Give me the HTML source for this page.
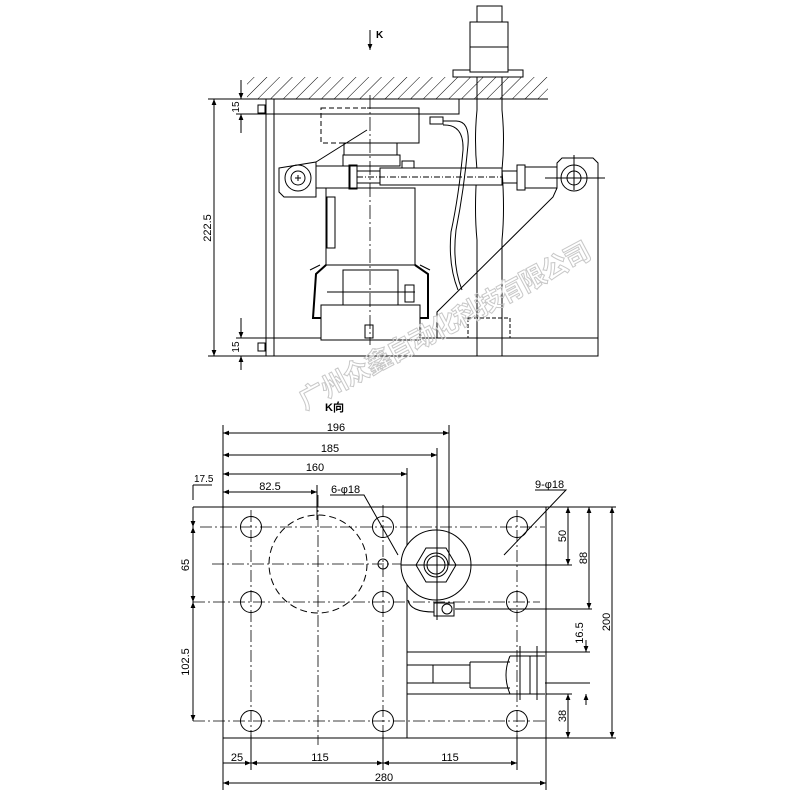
<!DOCTYPE html>
<html><head><meta charset="utf-8"><style>html,body{margin:0;padding:0;background:#fff}svg{display:block}</style></head><body>
<svg width="800" height="800" viewBox="0 0 800 800" xmlns="http://www.w3.org/2000/svg" font-family="Liberation Sans, DejaVu Sans, sans-serif">
<defs>
<pattern id="h" width="9" height="9" patternUnits="userSpaceOnUse" patternTransform="rotate(45)"><line x1="0" y1="0" x2="0" y2="9" stroke="#000" stroke-width="1"/></pattern>
<marker id="a" viewBox="0 0 10 10" refX="10" refY="5" markerWidth="8" markerHeight="6" orient="auto-start-reverse"><path d="M0,1 L10,5 L0,9 z" fill="#000"/></marker>
</defs>
<g fill="none" stroke="#000" stroke-width="1">
<!-- TOP VIEW -->
<rect x="247" y="77" width="301" height="22" fill="url(#h)" stroke="none"/>
<line x1="247" y1="99" x2="548" y2="99"/>
<rect x="453" y="70" width="70" height="7" fill="#fff"/>
<rect x="477" y="6" width="25" height="16" fill="#fff"/>
<rect x="470" y="22" width="38" height="50" fill="#fff"/>
<line x1="470" y1="47" x2="508" y2="47"/>
<path d="M477,77 L477,110 Q474,140 477,170 Q474,210 477,240 L477,356 M502,77 L502,110 Q505,140 502,170 Q505,210 502,240 L502,356"/>
<rect x="266" y="99" width="8" height="257"/>
<rect x="274" y="99" width="185" height="15"/>
<rect x="274" y="338" width="324" height="18"/>
<rect x="258" y="105" width="7" height="8"/><rect x="258" y="343" width="7" height="8"/>
<path d="M437,338 L437,312 L553,197 L557,188 L557,163 L562,158 L593,158 L598,163 L598,338"/>
<rect x="321" y="108" width="98" height="35" stroke-dasharray="5,3"/>
<path d="M367,108 L419,108 L419,143 L367,143"/>
<rect x="344" y="143" width="53" height="12"/>
<rect x="343" y="155" width="57" height="11"/>
<path d="M316,162 L367,130 M279,168 L316,162 L316,197 L284,197 L279,192 Z" fill="#fff"/>
<circle cx="298" cy="178" r="13"/><circle cx="298" cy="178" r="7"/>
<path d="M295,178h6M298,175v6"/>
<rect x="316" y="166" width="34" height="22" fill="#fff"/>
<rect x="349" y="165" width="8" height="24"/>
<rect x="357" y="171" width="23" height="12"/>
<rect x="380" y="168" width="122" height="17" fill="#fff"/>
<line x1="357" y1="177" x2="502" y2="177" stroke-dasharray="6,2,1,2"/>
<rect x="502" y="171" width="15" height="12"/>
<rect x="517" y="165" width="8" height="25"/>
<rect x="525" y="167" width="32" height="21"/>
<circle cx="574" cy="178" r="13"/><circle cx="574" cy="178" r="7"/>
<path d="M545,178h60M574,155v35"/>
<rect x="430" y="117" width="13" height="7"/><rect x="402" y="161" width="12" height="7"/>
<path d="M443,121 L455,121 Q470,120 468,145 Q464,190 456,230 Q452,265 462,290 M443,125 Q464,124 463,150 Q459,195 451,232 Q448,265 458,290"/>
<rect x="326" y="188" width="89" height="77"/>
<rect x="327" y="197" width="8" height="51"/>
<path d="M326,265 L316,274 L313,318 L428,318 L428,274 L415,265" stroke-width="2"/>
<path d="M320,265 L310,270 M420,265 L430,270"/>
<rect x="343" y="270" width="55" height="35"/>
<line x1="327" y1="292" x2="415" y2="292"/>
<rect x="405" y="285" width="9" height="17"/>
<rect x="321" y="305" width="99" height="35" fill="#fff"/>
<rect x="365" y="325" width="8" height="13"/>
<rect x="468" y="318" width="42" height="20" stroke-dasharray="4,2"/>
<rect x="477" y="338" width="25" height="18" stroke-dasharray="4,2"/>
<line x1="370" y1="95" x2="370" y2="345" stroke-dasharray="14,3,2,3" stroke-width="0.8"/>
<line x1="370" y1="30" x2="370" y2="50" marker-end="url(#a)"/>
<!-- top dims -->
<line x1="214" y1="99" x2="214" y2="356" marker-start="url(#a)" marker-end="url(#a)"/>
<path d="M208,99 H266 M208,356 H266 M236,114 H274 M236,338 H274"/>
<line x1="241" y1="80" x2="241" y2="99" marker-end="url(#a)"/><line x1="241" y1="133" x2="241" y2="114" marker-end="url(#a)"/>
<line x1="241" y1="318" x2="241" y2="338" marker-end="url(#a)"/><line x1="241" y1="370" x2="241" y2="356" marker-end="url(#a)"/>
<!-- K VIEW -->
<rect x="223" y="507" width="184" height="231"/>
<rect x="407" y="507" width="139" height="231"/>
<g stroke-dasharray="12,3,2,3" stroke-width="0.8">
<line x1="200" y1="527" x2="545" y2="527"/><line x1="193" y1="602" x2="540" y2="602"/><line x1="193" y1="721" x2="545" y2="721"/>
<line x1="212" y1="564" x2="470" y2="564"/>
<line x1="251" y1="510" x2="251" y2="770"/><line x1="383" y1="505" x2="383" y2="770"/><line x1="517" y1="510" x2="517" y2="735"/>
<line x1="318" y1="495" x2="318" y2="745"/>
</g>
<circle cx="251" cy="527" r="10.5"/><circle cx="383" cy="527" r="10.5"/><circle cx="517" cy="527" r="10.5"/>
<circle cx="251" cy="602" r="10.5"/><circle cx="383" cy="602" r="10.5"/><circle cx="517" cy="602" r="10.5"/>
<circle cx="251" cy="721" r="10.5"/><circle cx="383" cy="721" r="10.5"/><circle cx="517" cy="721" r="10.5"/>
<circle cx="318" cy="564" r="49" stroke-dasharray="7,4"/>
<circle cx="383" cy="564" r="5"/>
<circle cx="436" cy="565" r="35" fill="#fff"/>
<polygon points="416,565 426,548 446,548 456,565 446,582 426,582"/>
<circle cx="436" cy="565" r="12"/><circle cx="436" cy="565" r="9"/>
<line x1="401" y1="565" x2="471" y2="565"/>
<rect x="434" y="603" width="20" height="13"/><circle cx="447" cy="609" r="5"/>
<path d="M408,600 Q410,612 434,612"/>
<path d="M407,652 H545 M407,694 H545 M407,665 H470 M407,683 H470 M470,662 H510 M470,688 H510 M470,662 V688 M433,665 V683 M510,656 Q502,675 510,694 M510,656 H545 M510,694 H545"/>
<path d="M520,646 V700 M530,656 V694 M537,646 V700"/>
<!-- K dims -->
<g marker-start="url(#a)" marker-end="url(#a)">
<line x1="223" y1="433" x2="449" y2="433"/><line x1="223" y1="455" x2="437" y2="455"/><line x1="223" y1="474" x2="407" y2="474"/><line x1="223" y1="492" x2="317" y2="492"/>
<line x1="193" y1="527" x2="193" y2="602"/><line x1="193" y1="602" x2="193" y2="721"/>
<line x1="568" y1="507" x2="568" y2="565"/><line x1="589" y1="507" x2="589" y2="609"/><line x1="612" y1="507" x2="612" y2="738"/>
<line x1="568" y1="694" x2="568" y2="738"/>
<line x1="251" y1="763" x2="383" y2="763"/><line x1="383" y1="763" x2="517" y2="763"/><line x1="223" y1="783" x2="546" y2="783"/>
</g>
<line x1="193" y1="507" x2="193" y2="527" marker-end="url(#a)"/><line x1="193" y1="485" x2="193" y2="500"/>
<path d="M193,485 H212 M193,507 H223"/>
<line x1="586" y1="640" x2="586" y2="652" marker-end="url(#a)"/><line x1="586" y1="705" x2="586" y2="694" marker-end="url(#a)"/>
<line x1="223" y1="763" x2="251" y2="763" marker-end="url(#a)"/>
<path d="M223,425 V790 M449,425 V565 M437,448 V620 M407,468 V507 M317,485 V520 M546,510 V790 M251,735 V770 M383,735 V770 M517,735 V770"/>
<path d="M546,507 H616 M456,565 H572 M455,609 H592 M546,738 H616 M546,694 H572 M545,652 H590 M545,683 H590"/>
<path d="M330,495 H364 L398,555 M535,490 H566 L504,555"/>
</g>
<g fill="#000" font-size="11">
<text x="376" y="38" font-weight="bold" font-size="10">K</text>
<text x="325" y="411" font-weight="bold" font-size="11">K向</text>
<text x="336" y="431" text-anchor="middle">196</text>
<text x="330" y="452" text-anchor="middle">185</text>
<text x="315" y="471" text-anchor="middle">160</text>
<text x="270" y="490" text-anchor="middle">82.5</text>
<text x="194" y="482" font-size="10">17.5</text>
<text x="331" y="493">6-φ18</text>
<text x="535" y="488">9-φ18</text>
<text x="320" y="761" text-anchor="middle">115</text>
<text x="450" y="761" text-anchor="middle">115</text>
<text x="237" y="761" text-anchor="middle">25</text>
<text x="384" y="781" text-anchor="middle">280</text>
<text transform="translate(189,565) rotate(-90)" text-anchor="middle">65</text>
<text transform="translate(189,662) rotate(-90)" text-anchor="middle">102.5</text>
<text transform="translate(566,536) rotate(-90)" text-anchor="middle">50</text>
<text transform="translate(587,558) rotate(-90)" text-anchor="middle">88</text>
<text transform="translate(610,622) rotate(-90)" text-anchor="middle">200</text>
<text transform="translate(583,633) rotate(-90)" text-anchor="middle">16.5</text>
<text transform="translate(566,716) rotate(-90)" text-anchor="middle">38</text>
<text transform="translate(211,228) rotate(-90)" text-anchor="middle">222.5</text>
<text transform="translate(239,107) rotate(-90)" text-anchor="middle" font-size="10">15</text>
<text transform="translate(239,347) rotate(-90)" text-anchor="middle" font-size="10">15</text>
</g>
<text transform="translate(305,410) rotate(-28)" font-family="Liberation Sans, Noto Sans CJK SC, sans-serif" font-size="26" font-weight="bold" fill="none" stroke="#c8c8c8" stroke-width="1" letter-spacing="-1">广州众鑫自动化科技有限公司</text>
</svg>
</body></html>
